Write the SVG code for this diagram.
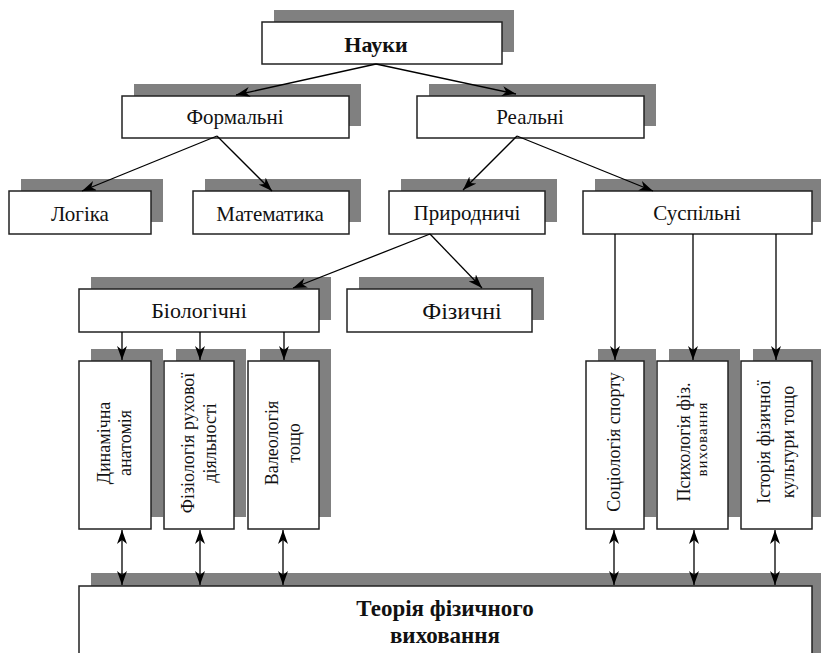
<svg xmlns="http://www.w3.org/2000/svg" width="821" height="653" viewBox="0 0 821 653" font-family="'Liberation Serif', 'DejaVu Serif', serif">
<defs>
<style>
.sh{fill:#808080;stroke:none}
.bx{fill:#fff;stroke:#222;stroke-width:1.5}
.t{font-family:'Liberation Serif','DejaVu Serif',serif;font-size:21px;fill:#111;text-anchor:middle}
.b{font-weight:bold}
.v{font-family:'Liberation Serif','DejaVu Serif',serif;font-size:18px;fill:#111;text-anchor:middle}
.c line{stroke:#000;stroke-width:1.3;fill:none}
</style>
<marker id="ah" viewBox="0 0 14 10" refX="14" refY="5" markerWidth="14" markerHeight="10" orient="auto-start-reverse" markerUnits="userSpaceOnUse">
<path d="M0,0 L14,5 L0,10 L4,5 z" fill="#000"/>
</marker>
</defs>
<rect width="821" height="653" fill="#fff"/>

<g id="big">
<rect class="sh" x="91" y="573" width="740" height="100"/>
<rect class="bx" x="79" y="586" width="733" height="100"/>
<text class="t b" x="445" y="616" style="font-size:23px">Теорія фізичного</text>
<text class="t b" x="445" y="643" style="font-size:23px">виховання</text>
</g>

<g id="nauky">
<rect class="sh" x="274" y="10" width="240" height="42"/>
<rect class="bx" x="262" y="22" width="240" height="42"/>
<text class="t b" x="376" y="52" style="font-size:22px">Науки</text>
</g>
<g id="formalni">
<rect class="sh" x="134" y="84" width="227" height="42"/>
<rect class="bx" x="122" y="96" width="227" height="42"/>
<text class="t" x="235" y="124">Формальні</text>
</g>
<g id="realni">
<rect class="sh" x="429" y="84" width="227" height="42"/>
<rect class="bx" x="417" y="96" width="227" height="42"/>
<text class="t" x="530" y="124">Реальні</text>
</g>
<g id="lohika">
<rect class="sh" x="21" y="179" width="142" height="43"/>
<rect class="bx" x="9" y="191" width="142" height="43"/>
<text class="t" x="80" y="221">Логіка</text>
</g>
<g id="matematyka">
<rect class="sh" x="205" y="179" width="156" height="43"/>
<rect class="bx" x="193" y="191" width="156" height="43"/>
<text class="t" x="270" y="221">Математика</text>
</g>
<g id="pryrodnychi">
<rect class="sh" x="401" y="179" width="156" height="43"/>
<rect class="bx" x="389" y="191" width="156" height="43"/>
<text class="t" x="467" y="220">Природничі</text>
</g>
<g id="suspilni">
<rect class="sh" x="595" y="179" width="229" height="43"/>
<rect class="bx" x="583" y="191" width="229" height="43"/>
<text class="t" x="697" y="220">Суспільні</text>
</g>
<g id="biolohichni">
<rect class="sh" x="91" y="277" width="240" height="43"/>
<rect class="bx" x="79" y="289" width="240" height="43"/>
<text class="t" x="199" y="318" style="font-size:22px">Біологічні</text>
</g>
<g id="fizychni">
<rect class="sh" x="359" y="277" width="185" height="43"/>
<rect class="bx" x="347" y="289" width="185" height="43"/>
<text class="t" x="462" y="319" style="font-size:24px">Фізичні</text>
</g>

<g id="dynamichna">
<rect class="sh" x="91" y="349" width="72" height="168"/>
<rect class="bx" x="79" y="361" width="72" height="168"/>
<text class="v" transform="translate(110,443) rotate(-90)">Динамічна</text>
<text class="v" transform="translate(131,443) rotate(-90)">анатомія</text>
</g>
<g id="fiziolohiia">
<rect class="sh" x="176" y="349" width="70" height="168"/>
<rect class="bx" x="164" y="361" width="70" height="168"/>
<text class="v" transform="translate(194,443) rotate(-90)">Фізіологія рухової</text>
<text class="v" transform="translate(216,443) rotate(-90)">діяльності</text>
</g>
<g id="valeolohiia">
<rect class="sh" x="260" y="349" width="71" height="168"/>
<rect class="bx" x="248" y="361" width="71" height="168"/>
<text class="v" transform="translate(278,443) rotate(-90)">Валеологія</text>
<text class="v" transform="translate(300,443) rotate(-90)">тощо</text>
</g>
<g id="sotsiolohiia">
<rect class="sh" x="598" y="349" width="58" height="168"/>
<rect class="bx" x="586" y="361" width="58" height="168"/>
<text class="v" transform="translate(620,442) rotate(-90)">Соціологія спорту</text>
</g>
<g id="psykholohiia">
<rect class="sh" x="669" y="349" width="71" height="168"/>
<rect class="bx" x="657" y="361" width="71" height="168"/>
<text class="v" transform="translate(690,442) rotate(-90)">Психологія фіз.</text>
<text class="v" transform="translate(707,439) rotate(-90)" style="font-size:15px;letter-spacing:1px">виховання</text>
</g>
<g id="istoriia">
<rect class="sh" x="753" y="349" width="71" height="168"/>
<rect class="bx" x="741" y="361" width="71" height="168"/>
<text class="v" transform="translate(770,442) rotate(-90)">Історія фізичної</text>
<text class="v" transform="translate(794,442) rotate(-90)">культури тощо</text>
</g>

<g id="connectors" class="c">
<line x1="376" y1="64" x2="236" y2="95" marker-end="url(#ah)"/>
<line x1="376" y1="64" x2="516" y2="94" marker-end="url(#ah)"/>
<line x1="217" y1="136" x2="82" y2="191" marker-end="url(#ah)"/>
<line x1="217" y1="136" x2="272" y2="191" marker-end="url(#ah)"/>
<line x1="517" y1="136" x2="463" y2="190" marker-end="url(#ah)"/>
<line x1="517" y1="136" x2="653" y2="191" marker-end="url(#ah)"/>
<line x1="430" y1="234" x2="293" y2="288" marker-end="url(#ah)"/>
<line x1="430" y1="234" x2="482" y2="288" marker-end="url(#ah)"/>
<line x1="122" y1="332" x2="122" y2="360" marker-end="url(#ah)"/>
<line x1="200" y1="332" x2="200" y2="360" marker-end="url(#ah)"/>
<line x1="284" y1="332" x2="284" y2="360" marker-end="url(#ah)"/>
<line x1="615" y1="234" x2="615" y2="360" marker-end="url(#ah)"/>
<line x1="693" y1="234" x2="693" y2="360" marker-end="url(#ah)"/>
<line x1="776" y1="234" x2="776" y2="360" marker-end="url(#ah)"/>
<line x1="122" y1="530" x2="122" y2="585" marker-start="url(#ah)" marker-end="url(#ah)"/>
<line x1="200" y1="530" x2="200" y2="585" marker-start="url(#ah)" marker-end="url(#ah)"/>
<line x1="283" y1="530" x2="283" y2="585" marker-start="url(#ah)" marker-end="url(#ah)"/>
<line x1="614" y1="530" x2="614" y2="585" marker-start="url(#ah)" marker-end="url(#ah)"/>
<line x1="694" y1="530" x2="694" y2="585" marker-start="url(#ah)" marker-end="url(#ah)"/>
<line x1="775" y1="530" x2="775" y2="585" marker-start="url(#ah)" marker-end="url(#ah)"/>
</g>
</svg>
